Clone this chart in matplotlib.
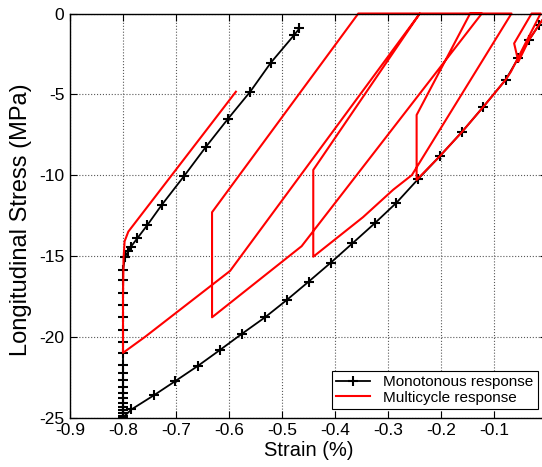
import matplotlib
matplotlib.use('Agg')
from matplotlib import pyplot as plt

plt.rcParams['font.family'] = ['Liberation Sans', 'DejaVu Sans']
plt.rcParams['axes.unicode_minus'] = False

# monotonous response: loading along envelope, hold at -0.8 %, unloading
mono_strain = [0.0, -0.015, -0.034, -0.054, -0.078, -0.120, -0.161, -0.202,
               -0.243, -0.284, -0.325, -0.367, -0.408, -0.450, -0.491, -0.532,
               -0.576, -0.617, -0.658, -0.701, -0.741, -0.784, -0.800,
               -0.800, -0.800, -0.800, -0.800, -0.800, -0.800, -0.800, -0.800,
               -0.800, -0.800, -0.800, -0.800, -0.800, -0.800, -0.800, -0.800,
               -0.800, -0.800, -0.800,
               -0.796, -0.790, -0.785, -0.773, -0.754, -0.727, -0.685, -0.644,
               -0.602, -0.560, -0.521, -0.477, -0.467]
mono_stress = [0.0, -0.70, -1.64, -2.75, -4.10, -5.77, -7.35, -8.82,
               -10.24, -11.71, -12.98, -14.22, -15.42, -16.60, -17.73, -18.80,
               -19.83, -20.82, -21.79, -22.74, -23.61, -24.50, -25.00,
               -24.90, -24.74, -24.54, -24.33, -24.12, -23.81, -23.50, -23.09,
               -22.68, -22.26, -21.75, -21.03, -20.31, -19.59, -18.80, -18.04,
               -17.28, -16.49, -15.87,
               -15.05, -14.70, -14.43, -13.91, -13.09, -11.85, -10.07, -8.27,
               -6.52, -4.84, -3.04, -1.33, -0.92]

# multicycle response
multi_strain = [0.0, -0.015, -0.034, -0.054, -0.062, -0.029, -0.012,
                -0.068, -0.078, -0.120, -0.161, -0.202, -0.246,
                -0.246, -0.145, -0.067, -0.255, -0.290, -0.347, -0.441,
                -0.441, -0.240, -0.123, -0.463, -0.632,
                -0.632, -0.356, -0.240, -0.598, -0.758, -0.800,
                -0.800, -0.799, -0.797, -0.790, -0.587]
multi_stress = [0.0, -0.70, -1.64, -2.98, -1.85, 0.0, 0.0,
                -3.60, -4.10, -5.77, -7.35, -8.82, -10.30,
                -6.28, 0.0, 0.0, -10.00, -10.90, -12.60, -15.05,
                -9.68, 0.0, 0.0, -14.40, -18.80,
                -12.30, 0.0, 0.0, -15.93, -20.00, -21.00,
                -17.50, -15.20, -14.10, -13.50, -4.84]

xticks = [-0.9, -0.8, -0.7, -0.6, -0.5, -0.4, -0.3, -0.2, -0.1]
xlabels = ['-0.9', '-0.8', '-0.7', '-0.6', '-0.5', '-0.4', '-0.3', '-0.2', '-0.1']
yticks = [-25, -20, -15, -10, -5, 0]
ylabels = ['-25', '-20', '-15', '-10', '-5', '0']

fig = plt.figure(figsize=(5.42, 4.67), dpi=100)
ax = fig.add_axes([70 / 542, 49.5 / 467, 477 / 542, 404 / 467])

ax.plot(mono_strain, mono_stress, color='k', lw=1.3, marker='+', ms=7,
        mew=1.5, label='Monotonous response')
ax.plot(multi_strain, multi_stress, color='r', lw=1.5, clip_on=False,
        label='Multicycle response')

ax.set_xlim(-0.9, 0)
ax.set_ylim(-25, 0)
ax.set_xticks(xticks)
ax.set_xticklabels(xlabels)
ax.set_yticks(yticks)
ax.set_yticklabels(ylabels)
ax.tick_params(direction='in', length=5, top=True, right=True,
               labelsize=12.5, pad=4)
ax.grid(True, linestyle=':', color='0.35', lw=0.8)
for s in ax.spines.values():
    s.set_linewidth(1.0)

ax.set_xlabel('Strain (%)', fontsize=14.5, labelpad=2)
ax.set_ylabel('Longitudinal Stress (MPa)', fontsize=17, va='center')
ax.yaxis.set_label_coords(-0.103, 0.49)

leg = ax.legend(loc='lower right', bbox_to_anchor=(538.3 / 542, 57.7 / 467),
                bbox_transform=fig.transFigure, borderaxespad=0,
                fancybox=False, framealpha=1, edgecolor='k', fontsize=11,
                handlelength=2.2, handletextpad=0.9, labelspacing=0.1,
                borderpad=0.3, numpoints=1)
leg.get_frame().set_linewidth(0.8)

fig.savefig('out.png', dpi=100)
